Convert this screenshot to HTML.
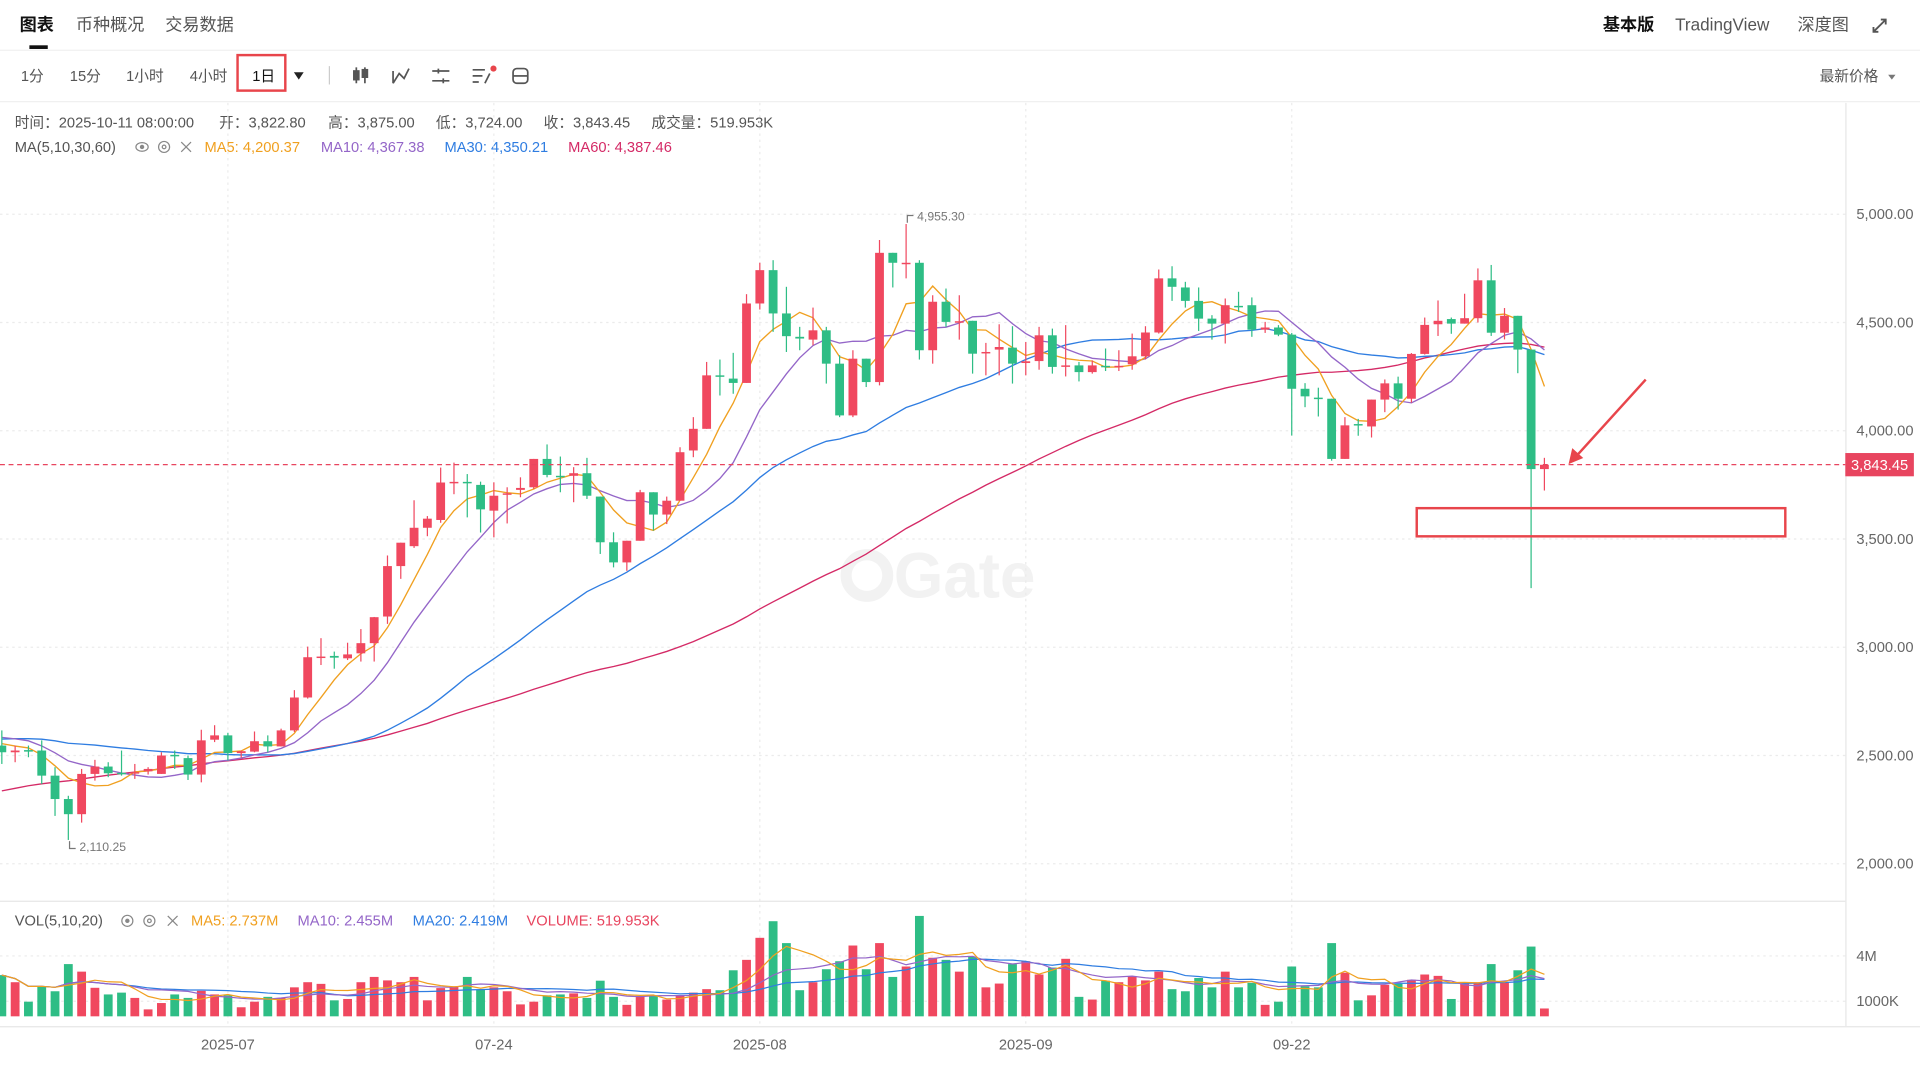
<!DOCTYPE html>
<html><head><meta charset="utf-8"><title>Gate chart</title>
<style>
html,body{margin:0;padding:0;background:#fff;overflow:hidden}
svg{display:block}
text{font-family:"Liberation Sans","Noto Sans CJK SC",sans-serif}
</style></head>
<body>
<svg id="chart" width="1920" height="1080" viewBox="0 0 1568 882" preserveAspectRatio="none" xmlns="http://www.w3.org/2000/svg">
<rect x="0" y="0" width="1568" height="882" fill="#fff"/>
<g font-size="14">
<text x="16" y="25" font-weight="bold" fill="#111">图表</text>
<rect x="24" y="37" width="15" height="3" fill="#111"/>
<text x="62" y="25" fill="#555">币种概况</text>
<text x="135" y="25" fill="#555">交易数据</text>
<text x="1309" y="25" font-weight="bold" fill="#111">基本版</text>
<text x="1368" y="25" fill="#555">TradingView</text>
<text x="1468" y="25" fill="#555">深度图</text>
<path d="M1530 26 L1540 16 M1536 16 H1540 V20 M1530 22 V26 H1534" stroke="#555" stroke-width="1.5" fill="none"/>
</g>
<line x1="0" y1="41" x2="1568" y2="41" stroke="#f0f0f0"/>
<g font-size="12" fill="#555">
<text x="17" y="66">1分</text>
<text x="57" y="66">15分</text>
<text x="103" y="66">1小时</text>
<text x="155" y="66">4小时</text>
<rect x="194" y="45" width="39" height="29" fill="none" stroke="#e8454b" stroke-width="2"/>
<text x="206" y="66" fill="#111">1日</text>
<path d="M240 59 L248 59 L244 65 Z" fill="#222"/>
<line x1="269" y1="54" x2="269" y2="69" stroke="#ccc"/>
<g stroke="#555" stroke-width="1.4"><line x1="291" y1="55" x2="291" y2="68"/><rect x="289" y="58" width="4" height="7" fill="#555"/><line x1="298" y1="55" x2="298" y2="68"/><rect x="296" y="57" width="4" height="6" fill="#555"/></g>
<path d="M321 68 V58 M321 68 L326 60 L330 64 L334 56" stroke="#555" stroke-width="1.4" fill="none"/>
<path d="M353 58 H367 M353 66 H367 M358 56 V60 M362 64 V68" stroke="#555" stroke-width="1.4" fill="none"/>
<path d="M386 57 H396 M386 62 H394 M386 67 H391 M396 68 L400 60" stroke="#555" stroke-width="1.4" fill="none"/>
<circle cx="403" cy="56" r="2.5" fill="#e8454b"/>
<g stroke="#555" stroke-width="1.4" fill="none"><rect x="419" y="56" width="12" height="12" rx="3"/><line x1="419" y1="62" x2="431" y2="62"/></g>
<text x="1486" y="66" fill="#555">最新价格</text>
<path d="M1542 61 L1548 61 L1545 65 Z" fill="#777"/>
</g>
<line x1="0" y1="83" x2="1568" y2="83" stroke="#f0f0f0"/>
<g font-size="12" fill="#555">
<text x="12" y="104">时间：2025-10-11 08:00:00</text>
<text x="179" y="104">开：3,822.80</text>
<text x="268" y="104">高：3,875.00</text>
<text x="356" y="104">低：3,724.00</text>
<text x="444" y="104">收：3,843.45</text>
<text x="532" y="104">成交量：519.953K</text>
</g>
<g font-size="12">
<text x="12" y="124" fill="#555">MA(5,10,30,60)</text>
<g stroke="#888" fill="none"><ellipse cx="116" cy="120" rx="5" ry="3.5"/><circle cx="116" cy="120" r="1.3" fill="#888"/></g>
<g stroke="#888" fill="none"><circle cx="134" cy="120" r="4.5"/><circle cx="134" cy="120" r="1.5"/></g>
<path d="M148 116 L156 124 M156 116 L148 124" stroke="#888"/>
<text x="167" y="124" fill="#f0a020">MA5: 4,200.37</text>
<text x="262" y="124" fill="#9466c8">MA10: 4,367.38</text>
<text x="363" y="124" fill="#2f7de1">MA30: 4,350.21</text>
<text x="464" y="124" fill="#d42a66">MA60: 4,387.46</text>
</g>
<g>
<circle cx="708" cy="470" r="17" fill="none" stroke="#f2f2f2" stroke-width="9"/>
<text x="730" y="488" font-size="52" font-weight="bold" fill="#f2f2f2">Gate</text>
</g>
<g id="grid"></g>
<g id="ma-lines"></g>
<g id="candles"></g>
<g id="vol-bars"></g>
<g id="vol-ma"></g>
<g id="axes"></g>
<g font-size="12">
<text x="12" y="756" fill="#555">VOL(5,10,20)</text>
<g stroke="#888" fill="none"><circle cx="104" cy="752" r="4.5"/><circle cx="104" cy="752" r="1.3" fill="#888"/></g>
<g stroke="#888" fill="none"><circle cx="122" cy="752" r="4.5"/><circle cx="122" cy="752" r="1.5"/></g>
<path d="M137 748 L145 756 M145 748 L137 756" stroke="#888"/>
<text x="156" y="756" fill="#f0a020">MA5: 2.737M</text>
<text x="243" y="756" fill="#9466c8">MA10: 2.455M</text>
<text x="337" y="756" fill="#2f7de1">MA20: 2.419M</text>
<text x="430" y="756" fill="#e8455f">VOLUME: 519.953K</text>
</g>
<rect x="1157" y="415" width="301" height="23" fill="none" stroke="#e8454b" stroke-width="2"/>
<g stroke="#e8454b" stroke-width="2" fill="#e8454b">
<line x1="1344" y1="310" x2="1286" y2="374"/>
<path d="M1281 379 L1284 366 L1293 374 Z" stroke="none"/>
</g>
</svg>
<script>
const priorCloses=[1780,1810,1795,1850,1870,1840,1900,1930,1920,1960,1990,2010,1980,2040,2070,2060,2100,2130,2120,2160,2190,2210,2250,2230,2280,2310,2300,2350,2380,2420,
2450,2480,2510,2470,2530,2560,2540,2590,2620,2600,2580,2630,2650,2610,2590,2570,2600,2620,2580,2550,2560,2590,2610,2640,2620,2600,2580,2560,2570,2550];
const opens=[2546,2515,2525,2523,2407,2299,2229,2415,2449,2420,
2418,2427,2415,2503,2488,2412,2573,2593,2511,2518,
2566,2542,2616,2768,2954,2960,2949,2972,3019,3142,
3375,3467,3552,3588,3758,3764,3750,3631,3706,3727,
3739,3870,3792,3792,3804,3696,3485,3392,3492,3716,
3613,3677,3909,4009,4256,4241,4221,4588,4742,4542,
4434,4421,4464,4310,4071,4333,4225,4822,4770,4776,
4372,4596,4503,4508,4359,4375,4384,4313,4322,4441,
4298,4302,4271,4300,4297,4307,4344,4454,4704,4662,
4600,4518,4495,4577,4580,4467,4477,4444,4194,4153,
4148,3870,4031,4020,4144,4219,4148,4355,4492,4516,
4495,4520,4695,4453,4531,4375,3823];
const closes=[2515,2523,2518,2407,2299,2229,2415,2449,2418,2416,
2423,2438,2500,2497,2412,2570,2593,2511,2520,2566,
2542,2616,2768,2954,2957,2952,2967,3019,3139,3375,
3483,3552,3594,3761,3764,3758,3637,3700,3711,3736,
3870,3796,3790,3804,3700,3485,3392,3492,3716,3613,
3677,3901,4009,4256,4251,4221,4588,4742,4542,4437,
4426,4464,4310,4071,4333,4225,4822,4776,4776,4372,
4596,4503,4506,4356,4364,4387,4310,4321,4441,4295,
4302,4271,4302,4298,4300,4344,4454,4704,4665,4600,
4518,4495,4580,4572,4467,4477,4444,4194,4159,4150,
3870,4025,4028,4144,4219,4148,4355,4489,4508,4495,
4520,4695,4453,4531,4375,3823,3843];
const highs=[2616,2546,2546,2570,2446,2314,2438,2480,2469,2523,
2461,2446,2515,2523,2500,2619,2640,2605,2523,2611,
2593,2624,2802,3003,3042,2980,3021,3084,3140,3424,
3483,3679,3606,3830,3853,3800,3765,3762,3739,3785,
3870,3937,3881,3832,3875,3696,3531,3492,3727,3716,
3696,3924,4063,4318,4329,4360,4631,4776,4788,4665,
4480,4569,4480,4349,4372,4333,4881,4822,4955,4788,
4626,4657,4626,4508,4406,4492,4483,4410,4480,4472,
4488,4318,4325,4380,4372,4449,4483,4745,4760,4688,
4662,4534,4611,4642,4616,4503,4488,4452,4220,4199,
4148,4063,4055,4144,4237,4250,4359,4523,4602,4523,
4633,4750,4766,4567,4531,4375,3875];
const lows=[2461,2469,2492,2368,2221,2110,2190,2384,2400,2407,
2392,2412,2415,2438,2387,2376,2562,2477,2490,2515,
2515,2542,2608,2763,2918,2901,2941,2934,2934,3108,
3316,3459,3513,3575,3707,3600,3530,3508,3572,3693,
3731,3785,3716,3670,3685,3431,3369,3353,3492,3539,
3569,3677,3878,4009,4163,4171,4221,4560,4457,4364,
4372,4395,4218,4063,4063,4202,4210,4662,4704,4329,
4310,4480,4421,4264,4256,4256,4218,4256,4282,4264,
4251,4228,4264,4276,4276,4282,4329,4449,4600,4569,
4461,4421,4403,4549,4434,4452,4437,3978,4109,4066,
3862,3870,3977,3969,4086,4098,4130,4352,4438,4448,
4495,4500,4438,4422,4266,3273,3724];
const volumes=[2.73,2.26,0.97,1.99,1.66,3.46,2.96,1.89,1.45,1.57,
1.22,0.46,0.88,1.45,1.22,1.69,1.45,1.39,0.6,0.97,
1.29,1.22,1.92,2.26,2.15,1.06,1.15,2.26,2.61,2.38,
2.26,2.61,1.06,1.87,1.99,2.61,1.76,1.92,1.66,0.79,
0.97,1.39,1.45,1.52,1.22,2.36,1.29,0.76,1.29,1.34,
1.11,1.39,1.57,1.8,1.73,3.05,3.74,5.2,6.3,4.85,
1.73,2.26,3.12,3.65,4.69,3.12,4.85,2.61,3.3,6.65,
3.88,3.74,2.96,3.93,1.92,2.17,3.46,3.65,2.77,3.23,
3.81,1.29,1.11,2.36,2.26,2.66,2.38,2.96,1.8,1.66,
2.54,1.92,2.96,1.92,2.22,0.76,0.97,3.3,1.99,1.92,
4.85,2.89,1.06,1.39,2.08,2.15,2.42,2.77,2.68,1.15,
2.22,2.26,3.46,2.26,3.05,4.62,0.52];
const priceTicks=[5000,4500,4000,3500,3000,2500,2000];
const priceTickLabels=["5,000.00","4,500.00","4,000.00","3,500.00","3,000.00","2,500.00","2,000.00"];
const volTicks=[4,1];
const volTickLabels=["4M","1000K"];
const dateIdx=[17,37,57,77,97];
const dateLabels=["2025-07","07-24","2025-08","2025-09","09-22"];
const lastPrice=3843.45;
const lastPriceLabel="3,843.45";
const maxLabel="4,955.30";
const minLabel="2,110.25";

const NS="http://www.w3.org/2000/svg";
const X0=1.5, STEP=10.86, PLOT_R=1507;
function xPos(i){return X0+i*STEP;}
function yPrice(p){return 175+(5000-p)*88.4/500;}
function yVol(v){return 830-v*12.33;}
const RED="#f0485f", GREEN="#2ebd85";
function mk(tag,attrs,parent){const e=document.createElementNS(NS,tag);for(const k in attrs)e.setAttribute(k,attrs[k]);parent.appendChild(e);return e;}

const grid=document.getElementById('grid');
priceTicks.forEach(function(p){
  const l=mk('line',{x1:0,x2:PLOT_R,y1:yPrice(p),y2:yPrice(p),stroke:'#ebebeb','stroke-dasharray':'2,3'},grid);
  
  
});
dateIdx.forEach(function(i){
  const l=mk('line',{x1:xPos(i),x2:xPos(i),y1:84,y2:838,stroke:'#ebebeb','stroke-dasharray':'2,3'},grid);
  
  
});
volTicks.forEach(function(v){
  const l=mk('line',{x1:0,x2:PLOT_R,y1:yVol(v),y2:yVol(v),stroke:'#ebebeb','stroke-dasharray':'2,3'},grid);
  
  
});

const allCloses=priorCloses.concat(closes);
const P=priorCloses.length;
function maSeries(n){const out=[];for(let i=0;i<closes.length;i++){let s=0;const k=P+i;for(let j=k-n+1;j<=k;j++)s+=allCloses[j];out.push(s/n);}return out;}
const maDefs=[[60,'#d42a66','ma60-line'],[30,'#2f7de1','ma30-line'],[10,'#9466c8','ma10-line'],[5,'#f0a020','ma5-line']];
const maG=document.getElementById('ma-lines');
maDefs.forEach(function(d){
  const s=maSeries(d[0]);
  const pts=s.map(function(v,i){return xPos(i).toFixed(1)+','+yPrice(v).toFixed(1);}).join(' ');
  const pl=mk('polyline',{points:pts,fill:'none',stroke:d[1],'stroke-width':1.1},maG);
  
  
});

const cg=document.getElementById('candles');
for(let i=0;i<closes.length;i++){
  const o=opens[i],c=closes[i],h=Math.max(highs[i],o,c),lo=Math.min(lows[i],o,c);
  const col=c>=o?RED:GREEN;const x=xPos(i);
  const g=mk('g',{},cg);
  
  
  mk('line',{x1:x,x2:x,y1:yPrice(h),y2:yPrice(lo),stroke:col,'stroke-width':1},g);
  const top=yPrice(Math.max(o,c)),bot=yPrice(Math.min(o,c));
  mk('rect',{x:x-3.6,y:top,width:7.2,height:Math.max(1.2,bot-top),fill:col},g);
}
const vg=document.getElementById('vol-bars');
for(let i=0;i<volumes.length;i++){
  const col=closes[i]>=opens[i]?RED:GREEN;const x=xPos(i);
  const r=mk('rect',{x:x-3.6,y:yVol(volumes[i]),width:7.2,height:yVol(0)-yVol(volumes[i]),fill:col},vg);
  
  
}
function vma(n){const out=[];for(let i=0;i<volumes.length;i++){let s=0,c=0;for(let j=Math.max(0,i-n+1);j<=i;j++){s+=volumes[j];c++;}out.push(s/c);}return out;}
const vmg=document.getElementById('vol-ma');
[[20,'#2f7de1','vol-ma20-line'],[10,'#9466c8','vol-ma10-line'],[5,'#f0a020','vol-ma5-line']].forEach(function(d){
  const s=vma(d[0]);
  const pts=s.map(function(v,i){return xPos(i).toFixed(1)+','+yVol(v).toFixed(1);}).join(' ');
  const pl=mk('polyline',{points:pts,fill:'none',stroke:d[1],'stroke-width':1},vmg);
  
  
});

const ax=document.getElementById('axes');
mk('line',{x1:PLOT_R+0.5,x2:PLOT_R+0.5,y1:84,y2:838,stroke:'#e6e6e6'},ax);
mk('line',{x1:0,x2:PLOT_R,y1:736,y2:736,stroke:'#e6e6e6'},ax);
mk('line',{x1:0,x2:1568,y1:838.5,y2:838.5,stroke:'#e6e6e6'},ax);
priceTicks.forEach(function(p,k){
  const t=mk('text',{x:1516,y:yPrice(p)+4,'font-size':12,fill:'#666'},ax);
  t.textContent=priceTickLabels[k];
  
  
});
volTicks.forEach(function(v,k){
  const t=mk('text',{x:1516,y:yVol(v)+4,'font-size':12,fill:'#666'},ax);
  t.textContent=volTickLabels[k];
  
  
});
dateIdx.forEach(function(i,k){
  const t=mk('text',{x:xPos(i),y:857,'font-size':12,fill:'#666','text-anchor':'middle'},ax);
  t.textContent=dateLabels[k];
  
  
});
const ly=yPrice(lastPrice);
const pl=mk('line',{x1:0,x2:PLOT_R,y1:ly,y2:ly,stroke:'#e8455f','stroke-dasharray':'4,3','stroke-width':1},ax);


const pb=mk('rect',{x:1507,y:ly-9.5,width:56,height:19,fill:'#e8455f'},ax);


const pt=mk('text',{x:1535,y:ly+4.5,'font-size':12,fill:'#fff','text-anchor':'middle'},ax);
pt.textContent=lastPriceLabel;
let hiI=0,loI=0;for(let i=0;i<highs.length;i++){if(highs[i]>highs[hiI])hiI=i;if(lows[i]<lows[loI])loI=i;}
const hy=yPrice(highs[hiI]);
const mx=mk('text',{x:xPos(hiI)+9,y:hy-3,'font-size':10,fill:'#777'},ax);
mx.textContent=maxLabel;


mk('path',{d:'M'+(xPos(hiI)+1)+' '+(hy-1)+' V'+(hy-7)+' H'+(xPos(hiI)+6),stroke:'#777',fill:'none'},ax);
const lyy=yPrice(lows[loI]);
const mn=mk('text',{x:xPos(loI)+9,y:lyy+9,'font-size':10,fill:'#777'},ax);
mn.textContent=minLabel;


mk('path',{d:'M'+(xPos(loI)+1)+' '+(lyy+1)+' V'+(lyy+7)+' H'+(xPos(loI)+6),stroke:'#777',fill:'none'},ax);
</script>
</body></html>
